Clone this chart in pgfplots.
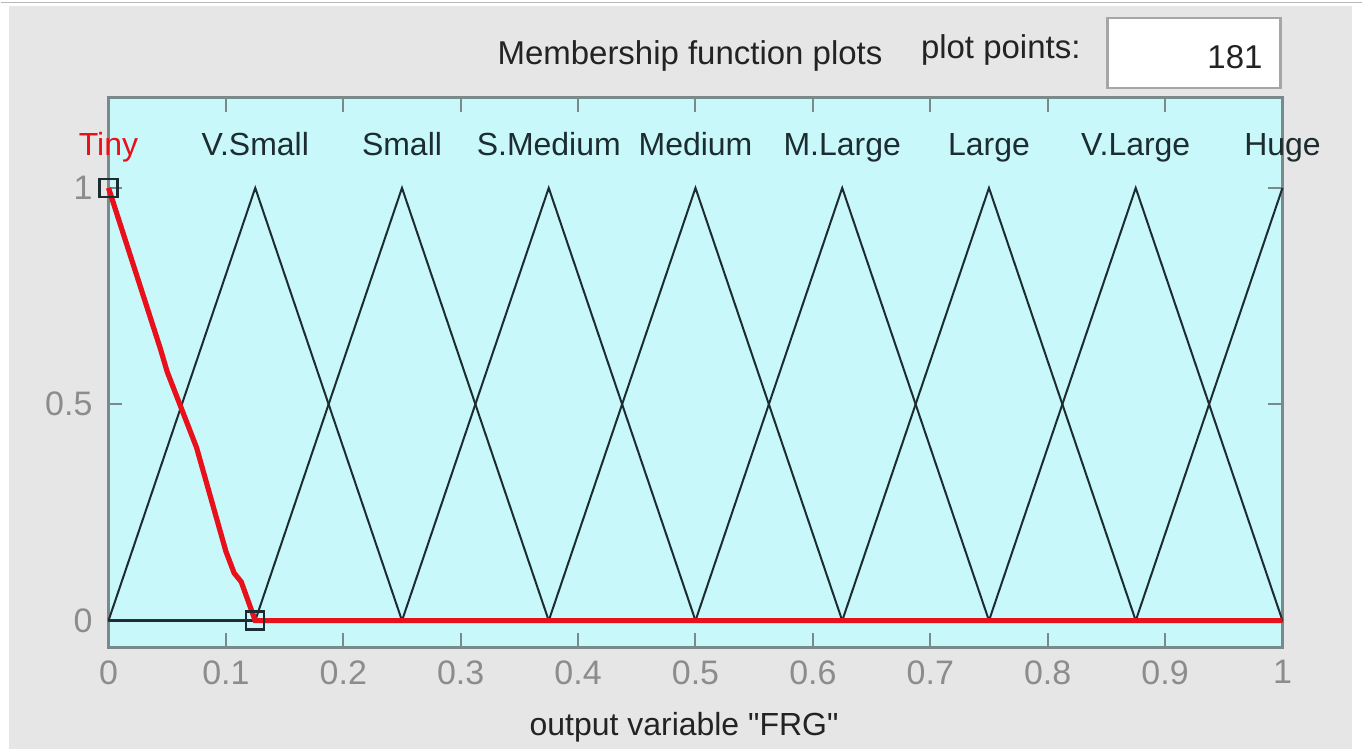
\documentclass[border=0pt]{standalone}
\usepackage{pgfplots}
\pgfplotsset{compat=1.18}
\usepackage{fontspec}
\setmainfont{Liberation Sans}
\newfontfamily\qfont{Liberation Sans}
\definecolor{bggray}{RGB}{230,230,230}
\definecolor{axbg}{RGB}{200,248,250}
\definecolor{axline}{RGB}{122,138,138}
\definecolor{tickgray}{RGB}{140,140,140}
\definecolor{mfblack}{RGB}{28,44,48}
\definecolor{mfred}{RGB}{232,16,26}
\definecolor{txt}{RGB}{35,35,35}
\tikzset{mflabel/.style={anchor=base,text=mfblack,font=\fontsize{16}{18}\selectfont}}
\begin{document}
\begin{tikzpicture}
\begin{scope}[x=0.5pt,y=-0.5pt]
  \fill[white] (0,0) rectangle (1363,756);
  \fill[bggray] (8,6) rectangle (1353,750);
  \draw[bggray!80!black,line width=0.6pt] (0,2.5) -- (1363,2.5);
  \node[text=txt,font=\fontsize{16.5}{18}\selectfont] at (690,56) {Membership function plots};
  \node[text=txt,font=\fontsize{16.5}{18}\selectfont] at (1001,50) {plot points:};
  \filldraw[fill=white,draw=gray!70,line width=1.2pt] (1108,18) rectangle (1281,88);
  \node[anchor=east,text=txt,font=\fontsize{16.5}{18}\selectfont] at (1270,57) {181};
  \node[text=txt,font=\fontsize{16}{18}\selectfont\qfont] at (684,728) {output variable "FRG"};
\end{scope}
\begin{axis}[
  at={(54pt,-324pt)}, anchor=south west,
  scale only axis, width=587.5pt, height=275pt,
  xmin=0, xmax=1, ymin=-0.062, ymax=1.208,
  clip=false,
  axis background/.style={fill=axbg},
  axis line style={draw=axline,line width=1.5pt},
  tick style={draw=axline,line width=1pt},
  major tick length=7pt,
  tick align=inside,
  xtick={0,0.1,0.2,0.3,0.4,0.5,0.6,0.7,0.8,0.9,1},
  xticklabels={0,0.1,0.2,0.3,0.4,0.5,0.6,0.7,0.8,0.9,1},
  ytick={0,0.5,1},
  yticklabels={0,0.5,1},
  xtick pos=both, ytick pos=both,
  xticklabel style={text=tickgray,font=\fontsize{17}{19}\selectfont,yshift=-3pt},
  yticklabel style={text=tickgray,font=\fontsize{17}{19}\selectfont,xshift=-4.5pt},
  /pgf/number format/assume math mode=true,
]
% black membership functions
\addplot[mfblack,line width=1pt] coordinates {(0,0) (0.125,1) (0.25,0) (1,0)};
\addplot[mfblack,line width=1pt] coordinates {(0,0) (0.125,0) (0.25,1) (0.375,0) (1,0)};
\addplot[mfblack,line width=1pt] coordinates {(0,0) (0.25,0) (0.375,1) (0.5,0) (1,0)};
\addplot[mfblack,line width=1pt] coordinates {(0,0) (0.375,0) (0.5,1) (0.625,0) (1,0)};
\addplot[mfblack,line width=1pt] coordinates {(0,0) (0.5,0) (0.625,1) (0.75,0) (1,0)};
\addplot[mfblack,line width=1pt] coordinates {(0,0) (0.625,0) (0.75,1) (0.875,0) (1,0)};
\addplot[mfblack,line width=1pt] coordinates {(0,0) (0.75,0) (0.875,1) (1,0)};
\addplot[mfblack,line width=1pt] coordinates {(0,0) (0.875,0) (1,1)};
% selected MF: Tiny
\addplot[mfred,line width=2.6pt] coordinates {(0,1) (0.044,0.63) (0.05,0.575) (0.075,0.4) (0.1,0.16) (0.107,0.11) (0.113,0.09) (0.125,0) (1,0)};
\addplot[only marks,mark=square,mark size=4.5pt,mark options={draw=mfblack,fill=none,line width=1.2pt}] coordinates {(0,1) (0.125,0)};
% MF names
\node[mflabel,text=mfred] at (axis cs:0,1.076) {Tiny};
\node[mflabel] at (axis cs:0.125,1.076) {V.Small};
\node[mflabel] at (axis cs:0.25,1.076) {Small};
\node[mflabel] at (axis cs:0.375,1.076) {S.Medium};
\node[mflabel] at (axis cs:0.5,1.076) {Medium};
\node[mflabel] at (axis cs:0.625,1.076) {M.Large};
\node[mflabel] at (axis cs:0.75,1.076) {Large};
\node[mflabel] at (axis cs:0.875,1.076) {V.Large};
\node[mflabel] at (axis cs:1,1.076) {Huge};
\end{axis}
\end{tikzpicture}
\end{document}
